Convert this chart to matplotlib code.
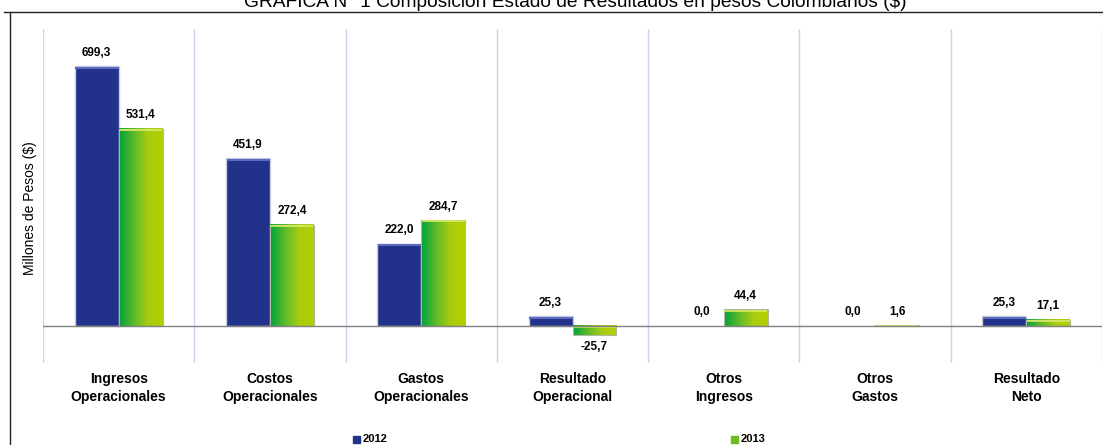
import matplotlib
matplotlib.use("Agg")
import matplotlib.pyplot as plt
import numpy as np
from matplotlib.colors import LinearSegmentedColormap
from matplotlib.lines import Line2D

plt.rcParams['font.family'] = ['Liberation Sans', 'DejaVu Sans']

categories = ["Ingresos\nOperacionales", "Costos\nOperacionales", "Gastos\nOperacionales",
              "Resultado\nOperacional", "Otros\nIngresos", "Otros\nGastos", "Resultado\nNeto"]
v2012 = [699.3, 451.9, 222.0, 25.3, 0.0, 0.0, 25.3]
v2013 = [531.4, 272.4, 284.7, -25.7, 44.4, 1.6, 17.1]
series_names = ["2012", "2013"]

W, H = 1103, 445
fig = plt.figure(figsize=(W / 100, H / 100), dpi=100)

# axes box in pixels: x 43..1102, y 29..363
ax = fig.add_axes([43 / W, 1 - 363 / H, (1102 - 43) / W, (363 - 29) / H])
ax.set_xlim(-0.5, len(categories) - 0.5)
ax.set_ylim(-100, 800)
for s in ax.spines.values():
    s.set_visible(False)
ax.set_xticks([])
ax.set_yticks([])

# category separators
for i in range(len(categories) + 1):
    ax.axvline(i - 0.5, color="#c9d5ee", lw=1, zorder=0)
ax.axhline(0, color="#808080", lw=1, zorder=3)

bw = 0.29
x = np.arange(len(categories))
green = LinearSegmentedColormap.from_list("g", ["#00a23c", "#5cba2a", "#a8cc10", "#b4d000"])
grad = np.linspace(0, 1, 64).reshape(1, -1)

for i in range(len(categories)):
    # 2012 bar
    x0 = x[i] - bw
    h = v2012[i]
    if h != 0:
        ax.bar(x0, h, width=bw, align="edge", color="#22318a",
               edgecolor="#c8cde0", lw=1, zorder=2)
        ax.plot([x0 + 0.01, x0 + bw - 0.01], [h - 4, h - 4], color="#5a6ac0", lw=1.5, zorder=2.5)
    # 2013 bar with gradient
    x1 = x[i]
    h2 = v2013[i]
    y0, y1 = (0, h2) if h2 >= 0 else (h2, 0)
    if h2 != 0:
        ax.imshow(grad, cmap=green, extent=[x1, x1 + bw, y0, y1], aspect="auto",
                  zorder=2, interpolation="bilinear")
        ax.bar(x1, h2, width=bw, align="edge", color="none",
               edgecolor="#b0b8a0", lw=0.8, zorder=2.2)
        ax.plot([x1 + 0.01, x1 + bw - 0.01], [y1 - 3, y1 - 3], color="#d8ec60", lw=1.2, zorder=2.5)

# value labels
def fmt(v):
    return f"{v:.1f}".replace(".", ",")

for i in range(len(categories)):
    h = v2012[i]
    ax.text(x[i] - bw / 2, max(h, 0) + 20, fmt(h),
            ha="center", va="bottom", fontsize=8.5, fontweight="bold", zorder=4)
    h2 = v2013[i]
    if h2 >= 0:
        ax.text(x[i] + bw / 2, h2 + 20, fmt(h2),
                ha="center", va="bottom", fontsize=8.5, fontweight="bold", zorder=4)
    else:
        ax.text(x[i] + bw / 2, h2 - 16, fmt(h2),
                ha="center", va="top", fontsize=8.5, fontweight="bold", zorder=4)

# category names
for i, c in enumerate(categories):
    fig.text((43 + 151.3 * (i + 0.5)) / W, 1 - 388 / H, c, ha="center", va="center",
             fontsize=10, fontweight="bold", linespacing=1.3)

fig.text(30 / W, 1 - 208 / H, "Millones de Pesos ($)", rotation=90, ha="center",
         va="center", fontsize=10)

fig.text(575 / W, 1 - 7 / H, "GRÁFICA N° 1 Composición Estado de Resultados en pesos Colombianos ($)",
         ha="center", va="baseline", fontsize=13.8)

# outer frame
fig.add_artist(Line2D([4 / W, 1], [1 - 12 / H, 1 - 12 / H], color="#202020", lw=1))
fig.add_artist(Line2D([10 / W, 10 / W], [1 - 12 / H, 0], color="#202020", lw=1))

# legend
for xp, name, col in [(357, series_names[0], "#22318a"), (735, series_names[1], "#6cbc20")]:
    fig.patches.append(plt.Rectangle(((xp - 4) / W, 1 - 443 / H), 7 / W, 7 / H,
                                     transform=fig.transFigure, color=col, figure=fig))
    fig.text((xp + 6) / W, 1 - 439 / H, name, ha="left", va="center",
             fontsize=8, fontweight="bold")

fig.savefig("out.png", dpi=100)
